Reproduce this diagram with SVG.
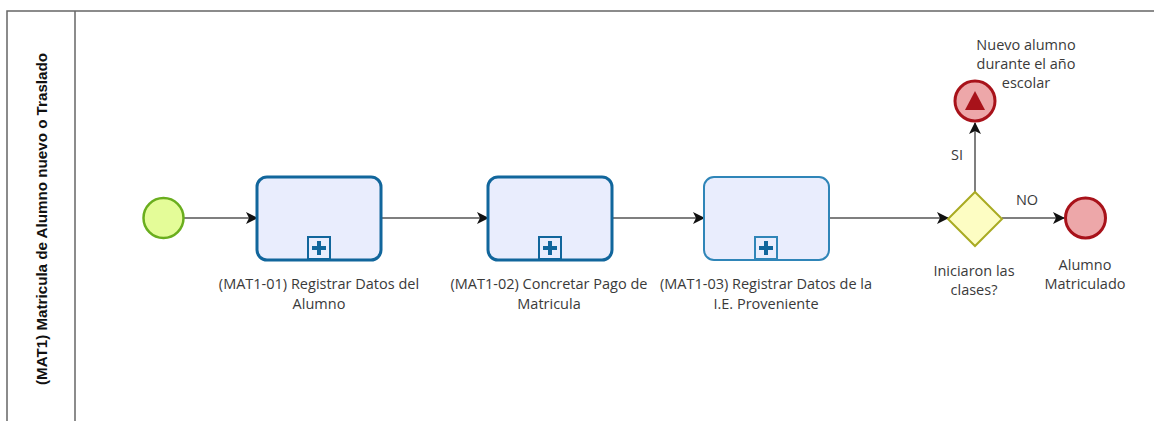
<svg xmlns="http://www.w3.org/2000/svg" width="1154" height="421" viewBox="0 0 1154 421">
  <defs>
    <marker id="arrow" viewBox="0 0 12 12" refX="11" refY="6" markerWidth="12" markerHeight="12" markerUnits="userSpaceOnUse" orient="auto">
      <path d="M0,0 L12,6 L0,12 L3,6 Z" fill="#111"/>
    </marker>
    <style>
      .lbl { font-family: "Open Sans", "Noto Sans", "DejaVu Sans", sans-serif; font-size: 14.5px; fill: #3a3a3a; text-anchor: middle; }
      .title { font-family: "Liberation Sans", Arial, sans-serif; font-size: 14px; font-weight: bold; fill: #111; text-anchor: middle; }
      .task { fill: #e9edfd; stroke: #11669c; stroke-width: 3; }
      .task.light { stroke: #2f85b8; stroke-width: 2; }
      .marker-box { fill: #e9edfd; stroke: #11669c; stroke-width: 2; }
      .plus { fill: #11669c; }
      .flow { fill: none; stroke: #555; stroke-width: 1.5; marker-end: url(#arrow); }
      .start { fill: #e4fc98; stroke: #6aae1e; stroke-width: 2.5; }
      .end { fill: #eda7a9; stroke: #a8121a; stroke-width: 3; }
      .gw { fill: #fdfdc3; stroke: #a9ab22; stroke-width: 2; }
      .pool { fill: none; stroke: #666; stroke-width: 1.5; }
    </style>
  </defs>

  <rect width="1154" height="421" fill="#fff"/>

  <!-- pool and lane header -->
  <g id="pool">
    <path class="pool" d="M7,421 V11 H1154"/>
    <path class="pool" d="M75,11 V421"/>
    <text class="title" transform="translate(47,219) rotate(-90)" textLength="332" lengthAdjust="spacingAndGlyphs">(MAT1) Matricula de Alumno nuevo o Traslado</text>
  </g>

  <!-- sequence flows -->
  <g id="connectors">
    <path class="flow" d="M184,218 H257"/>
    <path class="flow" d="M381,218 H488"/>
    <path class="flow" d="M612,218 H704"/>
    <path class="flow" d="M829,218 H948"/>
    <path class="flow" d="M1002,218 H1064"/>
    <path class="flow" d="M975,192 V123"/>
    <text class="lbl" x="957" y="160">SI</text>
    <text class="lbl" x="1027" y="205">NO</text>
  </g>

  <g id="start">
    <circle class="start" cx="163.5" cy="218" r="20"/>
  </g>

  <g id="task1">
    <rect class="task" x="257" y="177" width="124" height="83" rx="10"/>
    <rect class="marker-box" x="308" y="237" width="22" height="22"/>
    <path class="plus" d="M317,241 h4 v5 h5 v4 h-5 v5 h-4 v-5 h-5 v-4 h5 z"/>
    <text class="lbl" x="319" y="289">(MAT1-01) Registrar Datos del</text>
    <text class="lbl" x="319" y="309">Alumno</text>
  </g>

  <g id="task2">
    <rect class="task" x="488" y="177" width="124" height="83" rx="10"/>
    <rect class="marker-box" x="539" y="237" width="22" height="22"/>
    <path class="plus" d="M548,241 h4 v5 h5 v4 h-5 v5 h-4 v-5 h-5 v-4 h5 z"/>
    <text class="lbl" x="549" y="289">(MAT1-02) Concretar Pago de</text>
    <text class="lbl" x="549" y="309">Matricula</text>
  </g>

  <g id="task3">
    <rect class="task light" x="704" y="177" width="125" height="83" rx="10"/>
    <rect class="marker-box" x="755" y="237" width="22" height="22" style="stroke:#2f85b8"/>
    <path class="plus" d="M764,241 h4 v5 h5 v4 h-5 v5 h-4 v-5 h-5 v-4 h5 z"/>
    <text class="lbl" x="766" y="289">(MAT1-03) Registrar Datos de la</text>
    <text class="lbl" x="766" y="309">I.E. Proveniente</text>
  </g>

  <g id="gateway">
    <path class="gw" d="M975,192 L1002,219 L975,246 L948,219 Z"/>
    <text class="lbl" x="974" y="276">Iniciaron las</text>
    <text class="lbl" x="974" y="295">clases?</text>
  </g>

  <g id="end-escalation">
    <circle class="end" cx="975" cy="101" r="20"/>
    <path d="M975,91 L985,110 L965,110 Z" fill="#a8121a"/>
    <text class="lbl" x="1026" y="50">Nuevo alumno</text>
    <text class="lbl" x="1026" y="69">durante el año</text>
    <text class="lbl" x="1026" y="88">escolar</text>
  </g>

  <g id="end">
    <circle class="end" cx="1085.5" cy="218" r="20"/>
    <text class="lbl" x="1085" y="270">Alumno</text>
    <text class="lbl" x="1085" y="289">Matriculado</text>
  </g>
</svg>
